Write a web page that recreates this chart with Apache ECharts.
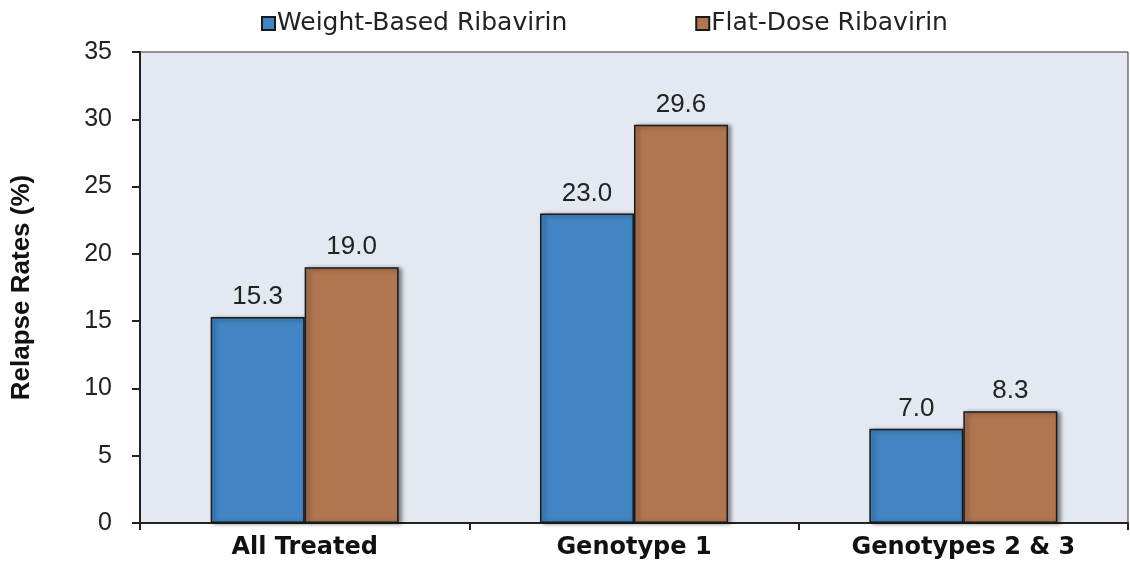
<!DOCTYPE html>
<html><head><meta charset="utf-8">
<script src="https://cdn.jsdelivr.net/npm/echarts@6/dist/echarts.min.js"></script>
<style>html,body{margin:0;padding:0;background:#fff}#c{width:1130px;height:563px}</style>
</head><body><div id="c"></div>
<script>
const categories = ['All Treated', 'Genotype 1', 'Genotypes 2 & 3'];
const seriesNames = ['Weight-Based Ribavirin', 'Flat-Dose Ribavirin'];
const weightBased = [15.3, 23.0, 7.0];
const flatDose = [19.0, 29.6, 8.3];
const yTicks = [0, 5, 10, 15, 20, 25, 30, 35];

const font = 'Liberation Sans, Arial, sans-serif';
const wide = 'DejaVu Sans, sans-serif';
const chart = echarts.init(document.getElementById('c'));
function mk(name, data, color) {
  return {
    name, type: 'bar', data, barWidth: 94, barGap: '0%',
    itemStyle: { color, borderColor: '#1a1a1a', borderWidth: 1.5,
      shadowColor: 'rgba(0,0,0,0.45)', shadowBlur: 4, shadowOffsetX: 3, shadowOffsetY: 1 },
    label: { show: true, position: 'top', distance: 7, formatter: p => p.value.toFixed(1),
      fontFamily: font, fontSize: 26, color: '#222' }
  };
}
chart.setOption({
  animation: false,
  textStyle: { fontFamily: font },
  legend: {
    top: 6, left: 256, itemGap: 128, itemWidth: 13, itemHeight: 13,
    icon: 'rect',
    textStyle: { fontFamily: wide, fontSize: 25, color: '#222', padding: [0,0,0,-3] },
    data: seriesNames
  },
  grid: { left: 140, right: 2, top: 52, bottom: 40, show: true, backgroundColor: '#e4e8f1',
    borderColor: '#333', borderWidth: 1 },
  xAxis: {
    type: 'category', data: categories,
    axisLine: { lineStyle: { color: '#222', width: 2 } },
    axisTick: { show: true, length: 7, lineStyle: { color: '#222', width: 2 } },
    axisLabel: { fontFamily: wide, fontSize: 24, fontWeight: 'bold', color: '#111', margin: 13 }
  },
  yAxis: {
    type: 'value', min: 0, max: 35, interval: 5,
    name: 'Relapse Rates (%)', nameLocation: 'middle', nameGap: 105,
    nameTextStyle: { fontFamily: font, fontSize: 26, fontWeight: 'bold', color: '#111' },
    axisLine: { show: true, lineStyle: { color: '#222', width: 2 } },
    axisTick: { show: true, length: 8, lineStyle: { color: '#222', width: 2 } },
    splitLine: { show: false },
    axisLabel: { fontFamily: font, fontSize: 25, color: '#222', margin: 28,
      formatter: v => yTicks.includes(v) ? String(v) : '' }
  },
  series: [mk(seriesNames[0], weightBased, '#4285c4'), mk(seriesNames[1], flatDose, '#b07650')]
});
</script></body></html>
